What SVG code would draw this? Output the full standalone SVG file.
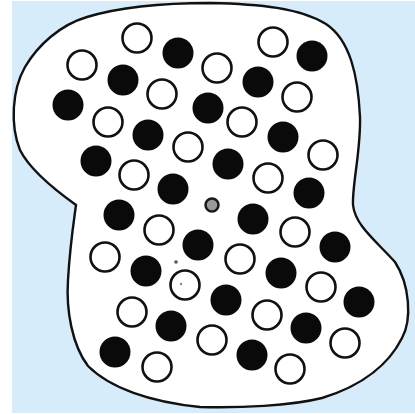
<svg xmlns="http://www.w3.org/2000/svg" width="415" height="414" viewBox="0 0 415 414">
<style>
.w{fill:#fff;stroke:#111;stroke-width:2.6}
.b{fill:#0a0a0a}
.blob{fill:#fff;stroke:#111;stroke-width:2.4}
</style>
<rect x="0" y="0" width="415" height="414" fill="#fff"/>
<rect x="12" y="1" width="403" height="412" fill="#d6ecfb"/>
<g id="blob">
<path class="blob" d="M210,3 C260,4 300,8 326,24 C350,40 358,75 360,117 C361,150 352,185 353,205 C355,225 375,240 395,262 C410,285 412,320 402,338 C390,362 365,385 322,398 C290,406 240,408 200,407 C150,402 110,388 88,366 C72,345 66,310 68,280 C70,245 74,220 76,205 C55,190 30,170 20,150 C10,125 12,90 25,67 C38,45 60,25 87,17 C120,7 160,3 210,3 Z"/>
</g>
<g id="black">
<circle class="b" cx="178" cy="53" r="15.5"/>
<circle class="b" cx="312" cy="56" r="15.5"/>
<circle class="b" cx="123" cy="80" r="15.5"/>
<circle class="b" cx="258" cy="82" r="15.5"/>
<circle class="b" cx="68" cy="105" r="15.5"/>
<circle class="b" cx="208" cy="108" r="15.5"/>
<circle class="b" cx="148" cy="135" r="15.5"/>
<circle class="b" cx="283" cy="137" r="15.5"/>
<circle class="b" cx="96" cy="161" r="15.5"/>
<circle class="b" cx="228" cy="164" r="15.5"/>
<circle class="b" cx="173" cy="189" r="15.5"/>
<circle class="b" cx="309" cy="193" r="15.5"/>
<circle class="b" cx="119" cy="215" r="15.5"/>
<circle class="b" cx="253" cy="219" r="15.5"/>
<circle class="b" cx="198" cy="245" r="15.5"/>
<circle class="b" cx="335" cy="247" r="15.5"/>
<circle class="b" cx="146" cy="271" r="15.5"/>
<circle class="b" cx="281" cy="273" r="15.5"/>
<circle class="b" cx="226" cy="300" r="15.5"/>
<circle class="b" cx="359" cy="302" r="15.5"/>
<circle class="b" cx="171" cy="326" r="15.5"/>
<circle class="b" cx="306" cy="328" r="15.5"/>
<circle class="b" cx="115" cy="352" r="15.5"/>
<circle class="b" cx="252" cy="355" r="15.5"/>
</g>
<g id="white">
<circle class="w" cx="137" cy="38" r="14.5"/>
<circle class="w" cx="273" cy="42" r="14.5"/>
<circle class="w" cx="82" cy="65" r="14.5"/>
<circle class="w" cx="217" cy="68" r="14.5"/>
<circle class="w" cx="162" cy="94" r="14.5"/>
<circle class="w" cx="297" cy="97" r="14.5"/>
<circle class="w" cx="108" cy="122" r="14.5"/>
<circle class="w" cx="242" cy="122" r="14.5"/>
<circle class="w" cx="188" cy="147" r="14.5"/>
<circle class="w" cx="323" cy="155" r="14.5"/>
<circle class="w" cx="134" cy="175" r="14.5"/>
<circle class="w" cx="268" cy="178" r="14.5"/>
<circle class="w" cx="159" cy="230" r="14.5"/>
<circle class="w" cx="295" cy="232" r="14.5"/>
<circle class="w" cx="105" cy="257" r="14.5"/>
<circle class="w" cx="240" cy="259" r="14.5"/>
<circle class="w" cx="185" cy="285" r="14.5"/>
<circle class="w" cx="321" cy="287" r="14.5"/>
<circle class="w" cx="132" cy="312" r="14.5"/>
<circle class="w" cx="267" cy="315" r="14.5"/>
<circle class="w" cx="212" cy="340" r="14.5"/>
<circle class="w" cx="345" cy="343" r="14.5"/>
<circle class="w" cx="157" cy="367" r="14.5"/>
<circle class="w" cx="290" cy="369" r="14.5"/>
</g>
<g id="center">
<circle cx="212" cy="205" r="6.5" fill="#9a9a9a" stroke="#1a1a1a" stroke-width="2.5"/>
</g>
<g id="dots">
<circle cx="176" cy="262" r="1.8" fill="#555"/>
<circle cx="181" cy="284" r="1.2" fill="#888"/>
</g>
</svg>
